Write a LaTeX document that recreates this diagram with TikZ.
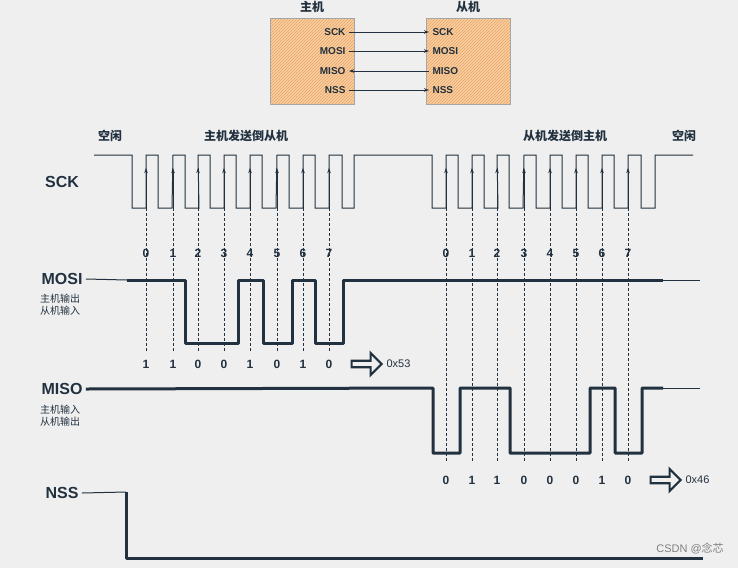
\documentclass[tikz,border=0pt]{standalone}
\usepackage{fontspec}
\setmainfont{Liberation Sans}
\newfontfamily\cjk{Noto Sans CJK SC}
\usetikzlibrary{patterns,arrows.meta,shapes.arrows}
\definecolor{ln}{HTML}{22313F}
\definecolor{bg}{HTML}{EFEFEF}
\definecolor{box}{HTML}{F6CFA6}
\definecolor{hatch}{HTML}{EDA45C}
\tikzset{
  thinl/.style={draw=ln,line width=1pt},
  thickl/.style={draw=ln,line width=3pt,line join=round},
  dashv/.style={draw=ln,line width=0.6pt,densely dashed},
  edge/.style={draw=ln,line width=0.8pt,-{Stealth[length=5pt,width=3.5pt]}},
  sig/.style={font=\bfseries\fontsize{16}{16}\selectfont,text=ln},
  cn/.style={font=\cjk\bfseries\fontsize{12}{12}\selectfont,text=ln},
  cns/.style={font=\cjk\fontsize{10}{12}\selectfont,text=ln,align=left},
  num/.style={font=\bfseries\fontsize{12}{12}\selectfont,text=ln},
  hx/.style={font=\fontsize{11}{11}\selectfont,text=ln},
  pin/.style={font=\bfseries\fontsize{10}{10}\selectfont,text=ln},
  bigarr/.style={single arrow,draw=ln,line width=2.2pt,fill=bg,minimum height=30pt,minimum width=22pt,single arrow head extend=5pt,inner sep=1pt}
}
\begin{document}
\begin{tikzpicture}[x=1pt,y=-1pt]
\fill[bg] (0,0) rectangle (738,568);
\useasboundingbox (0,0) rectangle (738,568);
% top boxes
\foreach \n/\x in {m/270,s/426}{
  \fill[box] (\x,18) rectangle ++(84,86);
  \path[pattern=north east lines,pattern color=hatch] (\x,18) rectangle ++(84,86);
  \draw[gray!70,line width=0.6pt] (\x,18) rectangle ++(84,86);
}
\node[cn] (mt) at (312,7) {主机};
\node[cn] (st) at (468,7) {从机};
\foreach \t/\y in {SCK/32,MOSI/51,MISO/71,NSS/90}{
  \node[pin,anchor=east] (m\t) at (349,\y) {\t};
  \node[pin,anchor=west] (s\t) at (429,\y) {\t};
}
\draw[edge] (mSCK.east) -- (sSCK.west);
\draw[edge] (mMOSI.east) -- (sMOSI.west);
\draw[edge] (sMISO.west) -- (mMISO.east);
\draw[edge] (mNSS.east) -- (sNSS.west);
% labels
\node[cn] (i1) at (110,136) {空闲};
\node[cn] (g1) at (246,136) {主机发送倒从机};
\node[cn] (g2) at (565,136) {从机发送倒主机};
\node[cn] (i2) at (684,136) {空闲};
\node[sig] (lsck) at (62,182) {SCK};
\node[sig] (lmosi) at (62,279) {MOSI};
\node[cns] (smosi) at (60,305) {主机输出\\从机输入};
\node[sig] (lmiso) at (62,389) {MISO};
\node[cns] (smiso) at (60,416) {主机输入\\从机输出};
\node[sig] (lnss) at (62,493) {NSS};
% SCK waveform
\draw[thinl] (94,155) -- (132,155) -- (132,208) -- (146,208)
 \foreach \r in {146,173,198,224,250,277,303} { -- (\r,155) -- (\r+12,155) -- (\r+12,208) -- (\r+26,208) }
 -- (329,155) -- (342,155) -- (342,208) -- (354,208) -- (354,155)
 -- (432,155) -- (432,208) -- (446,208)
 \foreach \r in {446,472,497,524,550,576,602} { -- (\r,155) -- (\r+12,155) -- (\r+12,208) -- (\r+26,208) }
 -- (628,155) -- (641,155) -- (641,208) -- (655,208) -- (655,155) -- (693,155);
% edges, dashed lines, indices
\foreach \x [count=\i from 0] in {146,173,198,224,250,277,303,329}{
  \draw[edge] (\x,208) -- (\x,168);
  \draw[dashv] (\x,208) -- (\x,352);
  \node[num] at (\x,253) {\i};
}
\foreach \x [count=\i from 0] in {446,472,497,524,550,576,602,628}{
  \draw[edge] (\x,208) -- (\x,168);
  \draw[dashv] (\x,208) -- (\x,462);
  \node[num] at (\x,253) {\i};
}
% MOSI
\draw[thinl] (lmosi.east) -- (127,280);
\draw[thickl] (127,280) -- (185,280) -- (185,343) -- (238,343) -- (238,280) -- (263,280) -- (263,343) -- (292,343) -- (292,280) -- (315,280) -- (315,343) -- (343,343) -- (343,280) -- (663,280);
\draw[thinl] (663,280) -- (700,280);
\foreach \x/\b in {146/1,173/1,198/0,224/0,250/1,277/0,303/1,329/0}{\node[num] at (\x,364) {\b};}
\node[bigarr] (a1) at (365,364) {};
\node[hx,anchor=west] (h1) at (383,364) {0x53};
% MISO
\draw[thickl] (lmiso.east) -- (433,388) -- (433,453) -- (460,453) -- (460,388) -- (510,388) -- (510,453) -- (590,453) -- (590,388) -- (615,388) -- (615,453) -- (642,453) -- (642,388) -- (663,388);
\draw[thinl] (663,388) -- (700,388);
\foreach \x/\b in {446/0,472/1,497/1,524/0,550/0,576/0,602/1,628/0}{\node[num] at (\x,480) {\b};}
\node[bigarr] (a2) at (664,480) {};
\node[hx,anchor=west] (h2) at (682,480) {0x46};
% NSS
\draw[thinl] (lnss.east) -- (126,492);
\draw[thickl] (126,492) -- (126,558) -- (703,558);
\node[font=\fontsize{11}{11}\selectfont,text=gray] (wm) at (690,549) {CSDN @{\cjk 念芯}};
\end{tikzpicture}
\end{document}
